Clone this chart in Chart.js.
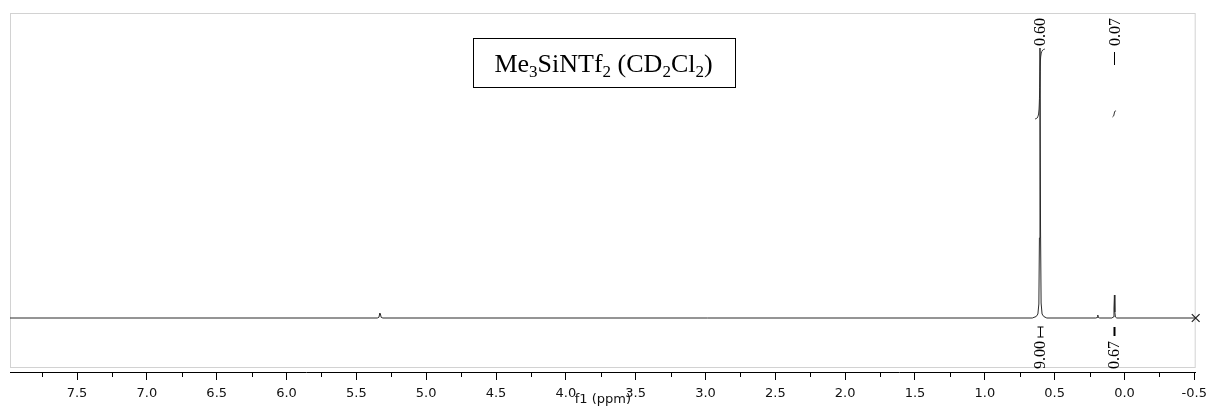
<!DOCTYPE html>
<html><head><meta charset="utf-8">
<script src="https://cdn.jsdelivr.net/npm/chart.js@4.4.1/dist/chart.umd.min.js"></script>
<style>html,body{margin:0;padding:0;background:#fff;overflow:hidden}#wrap{width:1213px;height:416px}</style>
</head><body><div id="wrap"><canvas id="c" width="1213" height="416"></canvas></div>
<script>
// ---- data ----
const spectrumPpm = [7.98, 5.350, 5.338, 5.332, 5.328, 5.322, 5.310,
  0.660, 0.632, 0.620, 0.613, 0.609, 0.605, 0.601, 0.597, 0.590, 0.578, 0.556,
  0.205, 0.195, 0.191, 0.187, 0.177,
  0.090, 0.080, 0.075, 0.072, 0.069, 0.065, 0.055, -0.51];
const spectrumIntensity = [0, 0, 0.8, 5, 4, 0.6, 0,
  0, 1.5, 4, 14, 80, 270, 90, 15, 4, 1.5, 0,
  0, 0.5, 3, 0.5, 0,
  0, 1, 10, 23, 6, 1, 0, 0];
const integralAPpm = [0.640, 0.625, 0.615, 0.610, 0.606, 0.602, 0.596, 0.585, 0.570];
const integralAValue = [199, 200, 204, 214, 236, 257, 265, 268, 269];
const integralBPpm = [0.085, 0.078, 0.074, 0.071, 0.067, 0.060];
const integralBValue = [201, 202, 204, 206, 207, 207];
const peakLabelPpm = [0.605, 0.072];
const peakLabels = ['0.60', '0.07'];
const peakTopValue = [270, 23];
const integralLabelPpm = [0.605, 0.072];
const integralLabels = ['9.00', '0.67'];
const majorTickValues = [7.5, 7.0, 6.5, 6.0, 5.5, 5.0, 4.5, 4.0, 3.5, 3.0, 2.5, 2.0, 1.5, 1.0, 0.5, 0.0, -0.5];
const majorTickLabels = ['7.5', '7.0', '6.5', '6.0', '5.5', '5.0', '4.5', '4.0', '3.5', '3.0', '2.5', '2.0', '1.5', '1.0', '0.5', '0.0', '-0.5'];
const minorTickValues = [7.75, 7.25, 6.75, 6.25, 5.75, 5.25, 4.75, 4.25, 3.75, 3.25, 2.75, 2.25, 1.75, 1.25, 0.75, 0.25, -0.25];
const xRange = [-0.51, 7.98];
const titleBoxCenterPpm = 3.73;

const toXY = (xs, ys) => xs.map((x, i) => ({x: x, y: ys[i]}));
const lastIdx = spectrumPpm.length - 1;

const annot = {
  id: 'annot',
  beforeDatasetsDraw(chart) {
    const {ctx, chartArea: a} = chart;
    ctx.save();
    ctx.strokeStyle = '#d2d2d2';
    ctx.lineWidth = 1;
    ctx.strokeRect(a.left + 0.5, a.top + 0.5, a.right - a.left - 1, 354);
    ctx.restore();
  },
  afterDraw(chart) {
    const {ctx, chartArea: a, scales: {x, y}} = chart;
    ctx.save();
    // minor ticks
    ctx.strokeStyle = '#000';
    ctx.lineWidth = 1;
    minorTickValues.forEach(v => {
      const px = Math.round(x.getPixelForValue(v)) + 0.5;
      ctx.beginPath(); ctx.moveTo(px, a.bottom); ctx.lineTo(px, a.bottom + 5); ctx.stroke();
    });
    // peak labels
    ctx.fillStyle = '#000';
    ctx.font = '16px "Liberation Serif", "Times New Roman", serif';
    peakLabelPpm.forEach((p, i) => {
      const px = x.getPixelForValue(p);
      const yb = a.top + 33;
      ctx.save(); ctx.translate(px + 1, yb); ctx.rotate(-Math.PI / 2);
      ctx.textAlign = 'left'; ctx.textBaseline = 'middle';
      ctx.fillText(peakLabels[i], 0, 0); ctx.restore();
      const top = y.getPixelForValue(peakTopValue[i]);
      if (top - yb > 12) {
        ctx.beginPath(); ctx.moveTo(Math.round(px) + 0.5, yb + 6); ctx.lineTo(Math.round(px) + 0.5, yb + 19); ctx.stroke();
      }
    });
    // integral labels
    integralLabelPpm.forEach((p, i) => {
      const px = Math.round(x.getPixelForValue(p)) + 0.5;
      const base = y.getPixelForValue(0);
      if (i === 0) {
        ctx.beginPath();
        ctx.moveTo(px - 3, base + 9); ctx.lineTo(px + 3, base + 9);
        ctx.moveTo(px, base + 9); ctx.lineTo(px, base + 19);
        ctx.moveTo(px - 3, base + 19); ctx.lineTo(px + 3, base + 19);
        ctx.stroke();
      } else {
        ctx.save(); ctx.lineWidth = 2;
        ctx.beginPath(); ctx.moveTo(px, base + 9); ctx.lineTo(px, base + 18); ctx.stroke();
        ctx.restore();
      }
      ctx.save(); ctx.translate(px, base + 51); ctx.rotate(-Math.PI / 2);
      ctx.textAlign = 'left'; ctx.textBaseline = 'middle';
      ctx.fillText(integralLabels[i], 0, 0); ctx.restore();
    });
    // title box
    const parts = [['Me', 0], ['3', 1], ['SiNTf', 0], ['2', 1], [' (CD', 0], ['2', 1], ['Cl', 0], ['2', 1], [')', 0]];
    const big = '26px "Liberation Serif", "Times New Roman", serif';
    const small = '17px "Liberation Serif", "Times New Roman", serif';
    let w = 0;
    parts.forEach(([t, s]) => { ctx.font = s ? small : big; w += ctx.measureText(t).width; });
    const cx = x.getPixelForValue(titleBoxCenterPpm);
    const bx0 = Math.round(cx - 131) + 0.5, by0 = a.top + 25.5;
    ctx.strokeStyle = '#000'; ctx.lineWidth = 1;
    ctx.strokeRect(bx0, by0, 262, 49);
    let tx = cx - w / 2;
    const baseY = a.top + 59;
    ctx.textAlign = 'left'; ctx.textBaseline = 'alphabetic';
    parts.forEach(([t, s]) => {
      ctx.font = s ? small : big;
      ctx.fillText(t, tx, s ? baseY + 5 : baseY);
      tx += ctx.measureText(t).width;
    });
    ctx.restore();
  }
};

new Chart(document.getElementById('c'), {
  type: 'line',
  data: {
    datasets: [
      {data: toXY(spectrumPpm, spectrumIntensity), borderColor: '#2a2a2a', borderWidth: 1,
       pointStyle: 'crossRot', pointRadius: c => c.dataIndex === lastIdx ? 5.5 : 0,
       pointBorderColor: '#222', pointBorderWidth: 1.2, clip: false, tension: 0},
      {data: toXY(integralAPpm, integralAValue), borderColor: '#333', borderWidth: 1, pointRadius: 0, tension: 0.3},
      {data: toXY(integralBPpm, integralBValue), borderColor: '#333', borderWidth: 1, pointRadius: 0, tension: 0.3}
    ]
  },
  options: {
    responsive: false, animation: false, devicePixelRatio: 1,
    layout: {padding: {left: 10, right: 16, top: 13, bottom: 0}},
    plugins: {legend: {display: false}, tooltip: {enabled: false}},
    scales: {
      x: {
        type: 'linear', reverse: true, min: xRange[0], max: xRange[1],
        afterBuildTicks: s => { s.ticks = majorTickValues.map(v => ({value: v})); },
        afterFit: s => { s.height = 44; },
        ticks: {
          autoSkip: false, maxRotation: 0, padding: 6, color: '#111',
          font: {family: '"DejaVu Sans", Verdana, sans-serif', size: 13},
          callback: v => majorTickLabels[majorTickValues.indexOf(v)] ?? ''
        },
        grid: {display: true, drawOnChartArea: false, drawTicks: true, tickLength: 8, tickColor: '#000', color: '#000'},
        border: {display: true, color: '#000', width: 1},
        title: {display: true, text: 'f1 (ppm)', color: '#111', padding: {top: 0, bottom: 9},
          font: {family: '"DejaVu Sans", Verdana, sans-serif', size: 13}}
      },
      y: {type: 'linear', display: false, min: -54, max: 305}
    }
  },
  plugins: [annot]
});
</script></body></html>
